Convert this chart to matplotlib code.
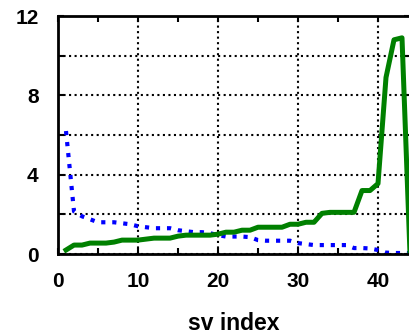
import numpy as np
import matplotlib.pyplot as plt
from matplotlib.ticker import MultipleLocator

plt.rcParams['font.family'] = ['Liberation Sans', 'DejaVu Sans']

# singular value index
sv_idx = list(range(1, 45))

# blue dotted series
blue_vals = [6.2, 2.15, 1.9, 1.75, 1.6, 1.6, 1.6, 1.55, 1.5, 1.4,
             1.35, 1.3, 1.3, 1.3, 1.2, 1.15, 1.1, 1.1, 1.05, 0.95,
             0.88, 0.88, 0.88, 0.85, 0.7, 0.67, 0.67, 0.67, 0.67, 0.55,
             0.5, 0.45, 0.45, 0.45, 0.45, 0.45, 0.3, 0.3, 0.28, 0.2,
             0.07, 0.05, 0.05, 0.05]

# green solid series
green_vals = [0.2, 0.45, 0.45, 0.55, 0.55, 0.55, 0.6, 0.7, 0.7, 0.7,
              0.75, 0.8, 0.8, 0.8, 0.9, 0.95, 0.95, 0.95, 0.95, 1.0,
              1.1, 1.1, 1.2, 1.2, 1.35, 1.35, 1.35, 1.35, 1.5, 1.5,
              1.6, 1.6, 2.05, 2.1, 2.1, 2.1, 2.1, 3.2, 3.2, 3.55,
              8.9, 10.8, 10.9, 0.0]

fig = plt.figure(figsize=(4.09, 3.33), dpi=100)
ax = fig.add_axes([58 / 409, 79 / 333, 352 / 409, 238 / 333])

ax.plot(sv_idx, blue_vals, color='blue', linestyle=':', linewidth=3)
ax.plot(sv_idx, green_vals, color='green', linestyle='-', linewidth=3.6)

ax.set_xlim(0, 44)
ax.set_ylim(0, 12)
ax.xaxis.set_major_locator(MultipleLocator(10))
ax.xaxis.set_minor_locator(MultipleLocator(5))
ax.yaxis.set_major_locator(MultipleLocator(4))
ax.yaxis.set_minor_locator(MultipleLocator(2))

ax.grid(True, which='both', color='black', linestyle=':', linewidth=1.5)
ax.grid(False, which='minor', axis='x')

ax.tick_params(which='both', direction='in', top=True, right=True,
               length=4, width=1.5, labelsize=15)
ax.tick_params(axis='x', pad=13)
ax.tick_params(axis='y', pad=14)
for lab in ax.get_xticklabels() + ax.get_yticklabels():
    lab.set_fontweight('bold')

for sp in ax.spines.values():
    sp.set_linewidth(2)

ax.set_xlabel('sv index', fontsize=16.5, fontweight='bold', labelpad=15)

fig.savefig('out.png', dpi=100)
